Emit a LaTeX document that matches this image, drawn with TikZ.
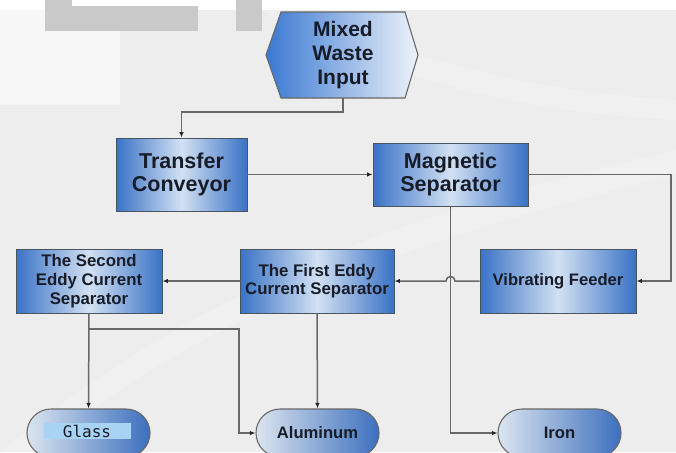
\documentclass[tikz,border=0pt]{standalone}
\usepackage{fontspec}
\setmainfont{Liberation Sans}
\newfontfamily\monofnt{DejaVu Sans Mono}
\usetikzlibrary{arrows.meta,shapes.geometric,shadings,calc}
\definecolor{bgc}{HTML}{EDEDED}
\definecolor{bxblue}{HTML}{3A72C6}
\definecolor{bxmid}{HTML}{D2E1F3}
\definecolor{txt}{HTML}{171C28}
\definecolor{lnc}{HTML}{686868}
\definecolor{bord}{HTML}{4A5360}
\definecolor{hexl}{HTML}{3A78D2}
\definecolor{hexr}{HTML}{EEF3FA}
\definecolor{pilll}{HTML}{DCE5F0}
\definecolor{pillr}{HTML}{3C6FBE}
\definecolor{lblc}{HTML}{A9D3F2}
\definecolor{wmgray}{HTML}{C9C9C9}
\tikzset{
  procbox/.style={rectangle, draw=bord, line width=0.9pt, left color=bxblue, right color=bxblue, middle color=bxmid, inner sep=0pt, align=center, text=txt},
  bigtxt/.style={font=\fontsize{21.5}{23.5}\selectfont\bfseries},
  pill/.style={rectangle, rounded corners=24pt, draw=lnc, line width=1.1pt, left color=pilll, right color=pillr, minimum width=123pt, minimum height=48pt, inner sep=0pt, text=txt, font=\fontsize{16.6}{18}\selectfont\bfseries},
  conn/.style={draw=lnc, line width=1.5pt, -{Latex[length=5.5pt,width=4.5pt,fill=black!85,color=black!85]}},
}
\begin{document}
\begin{tikzpicture}[x=1pt,y=-1pt]
\useasboundingbox (0,0) rectangle (676,452);
% background
\fill[bgc] (0,0) rectangle (676,452);
\fill[white,opacity=0.6] (0,10) rectangle (120,105);
\fill[white,opacity=0.18] (0,452) .. controls (150,330) and (320,230) .. (676,150) -- (676,175) .. controls (320,260) and (160,350) .. (40,452) -- cycle;
\fill[white,opacity=0.18] (300,10) .. controls (420,60) and (520,90) .. (676,100) -- (676,120) .. controls (500,110) and (400,80) .. (260,10) -- cycle;
\fill[white] (0,0) rectangle (676,10);
\fill[wmgray] (45,0) rectangle (198,31);
\fill[white] (72,0) rectangle (198,6);
\fill[wmgray] (236,0) rectangle (262,31);
% hexagon
\path[draw=lnc, line width=1.1pt, left color=hexl, right color=hexr] (266,55) -- (281,12) -- (405,12) -- (418,55) -- (405,98) -- (281,98) -- cycle;
\node[rectangle, inner sep=0pt, minimum width=124pt, minimum height=86pt, align=center, text=txt, font=\fontsize{21}{24}\selectfont\bfseries] (hex) at (343,55) {Mixed\\Waste\\Input};
% process boxes
\node[procbox, bigtxt, minimum width=131pt, minimum height=73pt] (tc) at (181.5,174.5) {Transfer\\Conveyor};
\node[procbox, bigtxt, minimum width=155pt, minimum height=63pt] (mag) at (450.5,174.5) {Magnetic\\Separator};
\node[procbox, font=\fontsize{16.6}{18.5}\selectfont\bfseries, minimum width=156pt, minimum height=64pt] (vf) at (558,281) {Vibrating Feeder};
\node[procbox, font=\fontsize{16.8}{18.5}\selectfont\bfseries, minimum width=154pt, minimum height=64pt] (fe) at (317,281) {The First Eddy\\Current Separator};
\node[procbox, font=\fontsize{16.8}{19}\selectfont\bfseries, minimum width=146pt, minimum height=64pt] (se) at (89,281) {The Second\\Eddy Current\\Separator};
% output pills
\node[pill] (glass) at (88.5,433) {};
\node[rectangle, fill=lblc, minimum width=87pt, minimum height=16pt, inner sep=0pt, text=txt, font=\monofnt\fontsize{16}{16}\selectfont] (glasslbl) at (87,431) {Glass};
\node[pill] (al) at (317.5,433) {Aluminum};
\node[pill] (iron) at (559.5,433) {Iron};
% helper coordinates
\coordinate (rc) at (671,174.5);
\coordinate (alj) at (239,329);
\coordinate (hopr) at (455,281);
\coordinate (hopl) at (446,281);
% connectors
\draw[conn] (hex.south) -- ++(0,14) -| (tc.north);
\draw[conn] (tc.east) -- (mag.west);
\draw[conn] (mag.east) -- (rc) |- (vf.east);
\draw[conn] (vf.west) -- (hopr) .. controls ($(hopr)+(0,-6)$) and ($(hopl)+(0,-6)$) .. (hopl) -- (fe.east);
\draw[conn] (fe.west) -- (se.east);
\draw[conn] (mag.south) |- (iron.west);
\draw[conn] (se.south) -- (glass.north);
\draw[conn] (se.south |- alj) -- (alj) |- (al.west);
\draw[conn] (fe.south) -- (al.north);
\end{tikzpicture}
\end{document}
